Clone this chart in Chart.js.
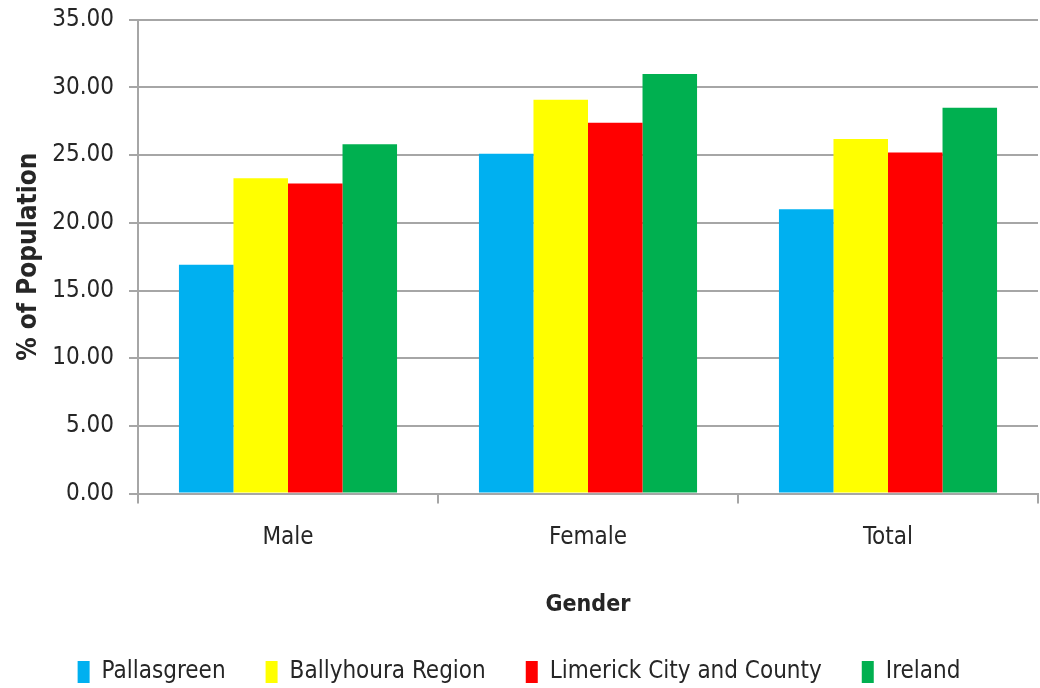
<!DOCTYPE html>
<html>
<head>
<meta charset="utf-8">
<script src="https://cdn.jsdelivr.net/npm/chart.js@4/dist/chart.umd.min.js"></script>
<style>
  html, body { margin: 0; padding: 0; background: #fff; }
  #wrap { width: 1040px; height: 688px; }
</style>
</head>
<body>
<div id="wrap"><canvas id="genderChart"></canvas></div>
<script>
const categories = ['Male', 'Female', 'Total'];
const pallasgreen = [16.9, 25.1, 21.0];
const ballyhoura = [23.3, 29.1, 26.2];
const limerick = [22.9, 27.4, 25.2];
const ireland = [25.8, 31.0, 28.5];
const seriesNames = ['Pallasgreen', 'Ballyhoura Region', 'Limerick City and County', 'Ireland'];
const seriesColors = ['#00B0F0', '#FFFF00', '#FF0000', '#00B050'];

const FONT = '"DejaVu Sans Condensed", "Open Sans", sans-serif';
const textColor = '#262626';
const lineColor = '#a6a6a6';

const seriesValues = [pallasgreen, ballyhoura, limerick, ireland];

new Chart(document.querySelector('#genderChart'), {
  type: 'bar',
  data: {
    labels: categories,
    datasets: seriesValues.map((values, i) => ({
      label: seriesNames[i],
      data: values,
      backgroundColor: seriesColors[i],
      borderWidth: 0,
    })),
  },
  options: {
    responsive: true,
    maintainAspectRatio: false,
    animation: false,
    categoryPercentage: 0.727,
    barPercentage: 1,
    layout: {
      padding: { top: 0, right: 2, left: 0, bottom: -6 },
    },
    plugins: {
      legend: {
        position: 'bottom',
        labels: {
          color: textColor,
          font: { family: FONT, size: 24 },
          boxWidth: 12,
          boxHeight: 22,
          padding: 40,
        },
      },
      tooltip: { enabled: false },
    },
    scales: {
      x: {
        ticks: {
          color: textColor,
          font: { family: FONT, size: 24 },
          padding: 20,
        },
        grid: {
          display: true,
          drawOnChartArea: false,
          color: lineColor,
          lineWidth: 2,
          tickLength: 10,
        },
        border: { color: lineColor, width: 2 },
        title: {
          display: true,
          text: 'Gender',
          color: textColor,
          font: { family: FONT, size: 23, weight: 'bold' },
          padding: { top: 19, bottom: 1 },
        },
      },
      y: {
        min: 0,
        max: 35,
        ticks: {
          stepSize: 5,
          color: textColor,
          font: { family: FONT, size: 24, lineHeight: 0.4 },
          padding: 15,
          callback: (value) => value.toFixed(2),
        },
        grid: {
          color: lineColor,
          lineWidth: 2,
          tickLength: 9,
        },
        border: { color: lineColor, width: 2 },
        title: {
          display: true,
          text: '% of Population',
          color: textColor,
          font: { family: FONT, size: 26, weight: 'bold' },
          padding: { top: 14, bottom: -8 },
        },
      },
    },
  },
});
</script>
</body>
</html>
